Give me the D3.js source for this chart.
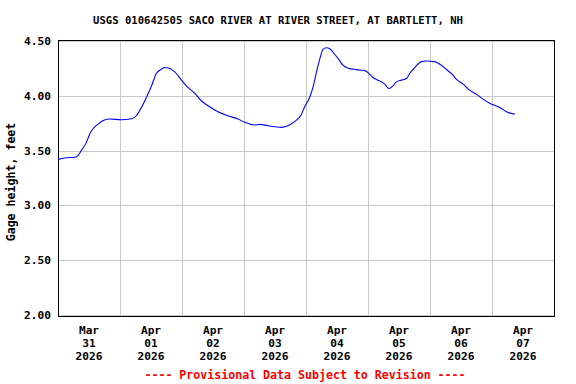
<!DOCTYPE html>
<html><head><meta charset="utf-8">
<script src="https://cdn.jsdelivr.net/npm/d3@7"></script>
<style>body{margin:0;background:#fff}</style>
</head><body>
<script>
const title = "USGS 010642505 SACO RIVER AT RIVER STREET, AT BARTLETT, NH";
const yLabel = "Gage height, feet";
const footer = "---- Provisional Data Subject to Revision ----";
const startDate = new Date(2026, 2, 31, 0, 0);
const endDate = new Date(2026, 3, 8, 0, 0);
const yTicks = [2.0, 2.5, 3.0, 3.5, 4.0, 4.5];
const xTickLabels = [["Mar","31","2026"],["Apr","01","2026"],["Apr","02","2026"],["Apr","03","2026"],["Apr","04","2026"],["Apr","05","2026"],["Apr","06","2026"],["Apr","07","2026"]];
// hours since Mar 31 00:00
const hours = [0,2.6,6.5,7.7,9,11,12.3,13.5,15.5,18,20,24.5,28.4,30.3,32.3,34.2,36.2,38.1,40,41.3,43.2,45.2,47.8,50.3,52.9,55.5,58.1,61.9,65.8,69.7,72.3,76.1,78.1,81.3,86.5,89,91.6,94.2,95.5,97.4,98.7,100,101.3,102.6,103.9,105.2,107.1,109.1,110.3,112.3,115.5,118.7,120,121.9,124.5,126.5,128.1,129.7,131,132.9,134.9,136.2,138.1,140.7,142.6,145.8,147.8,150.3,152.9,154.2,156.8,159.3,161.9,164.5,167.1,171,173.6,176.8];
const gage = [3.42,3.433,3.44,3.455,3.50,3.575,3.652,3.697,3.742,3.779,3.788,3.782,3.79,3.818,3.894,3.985,4.09,4.206,4.242,4.258,4.252,4.218,4.143,4.076,4.024,3.955,3.909,3.855,3.818,3.788,3.758,3.733,3.739,3.727,3.712,3.727,3.764,3.83,3.9,3.985,4.076,4.212,4.333,4.424,4.439,4.43,4.379,4.318,4.279,4.252,4.239,4.23,4.212,4.167,4.136,4.106,4.066,4.091,4.127,4.143,4.158,4.206,4.258,4.312,4.318,4.312,4.288,4.242,4.188,4.152,4.106,4.052,4.015,3.97,3.933,3.894,3.855,3.833];

const W = 576, H = 384;
const L = 58, R = 554, T = 40, B = 316;
const font = "'DejaVu Sans Mono', monospace";
const svg = d3.select("body").append("svg").attr("width", W).attr("height", H);

const x = d3.scaleTime().domain([startDate, endDate]).range([L, R]);
const y = d3.scaleLinear().domain([2.0, 4.5]).range([315, 41]);

// gridlines
const grid = svg.append("g").attr("stroke", "#c8c8c8").attr("stroke-width", 1).attr("shape-rendering", "crispEdges");
grid.selectAll("line.h").data(yTicks).join("line")
  .attr("x1", L).attr("x2", R)
  .attr("y1", d => Math.round(y(d)) + 0.5).attr("y2", d => Math.round(y(d)) + 0.5);
const dayTicks = d3.timeDay.range(d3.timeDay.offset(startDate, 1), endDate);
grid.selectAll("line.v").data(dayTicks).join("line")
  .attr("y1", T).attr("y2", B)
  .attr("x1", d => Math.round(x(d)) + 0.5).attr("x2", d => Math.round(x(d)) + 0.5);

// border
svg.append("rect").attr("x", L + 0.5).attr("y", T + 0.5).attr("width", R - L - 1 + 1).attr("height", B - T)
  .attr("fill", "none").attr("stroke", "#000").attr("stroke-width", 1).attr("shape-rendering", "crispEdges");

// line
const pts = hours.map((h, i) => ({t: new Date(startDate.getTime() + h * 3600000), v: gage[i]}));
svg.append("path").datum(pts)
  .attr("fill", "none").attr("stroke", "#0000ff").attr("stroke-width", 1.1)
  .attr("d", d3.line().x(d => x(d.t)).y(d => y(d.v)).curve(d3.curveMonotoneX));

// y axis labels
svg.append("g").selectAll("text").data(yTicks).join("text")
  .attr("x", 51).attr("y", d => y(d) + 4)
  .attr("text-anchor", "end").attr("font-family", font).attr("font-weight", "bold").attr("font-size", 11.2)
  .text(d => d.toFixed(2));

// x axis labels
const days = d3.timeDay.range(startDate, endDate);
const xl = svg.append("g").selectAll("text").data(days).join("text")
  .attr("text-anchor", "middle").attr("font-family", font).attr("font-weight", "bold").attr("font-size", 11.2)
  .attr("transform", d => `translate(${x(d3.timeHour.offset(d, 12))},0)`);
xl.each(function(d, i) {
  const t = d3.select(this);
  xTickLabels[i].forEach((s, j) => t.append("tspan").attr("x", 0).attr("y", 334 + j * 13).text(s));
});

// y title
svg.append("text").attr("transform", `translate(15,${(T + B) / 2 + 4}) rotate(-90)`)
  .attr("text-anchor", "middle").attr("font-family", font).attr("font-weight", "bold").attr("font-size", 11.6)
  .text(yLabel);

// title
svg.append("text").attr("x", 278).attr("y", 24).attr("text-anchor", "middle")
  .attr("font-family", font).attr("font-weight", "bold").attr("font-size", 10.6).text(title);

// footer
svg.append("text").attr("x", 305).attr("y", 379).attr("text-anchor", "middle")
  .attr("font-family", font).attr("font-weight", "bold").attr("font-size", 11.6).attr("fill", "#ff0000").text(footer);
</script>
</body></html>
